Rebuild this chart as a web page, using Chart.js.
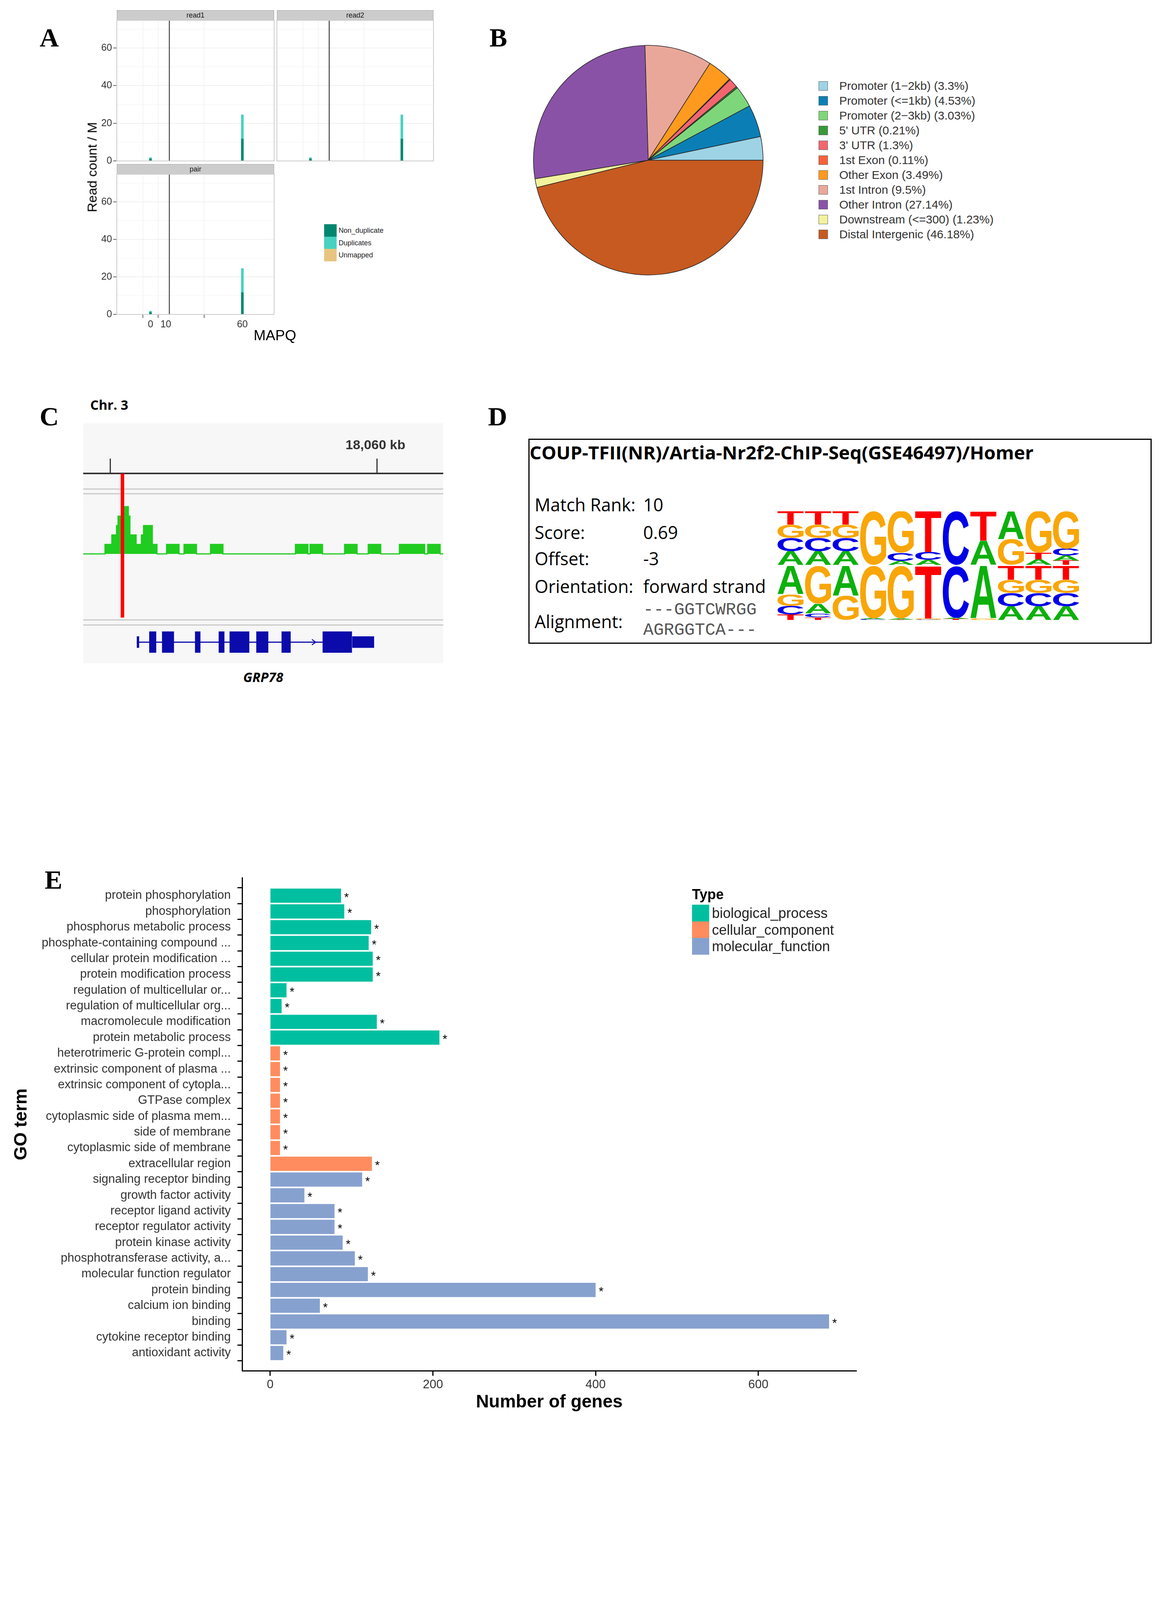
<!DOCTYPE html>
<html>
<head>
<meta charset="utf-8">
<title>ChIP-seq figure</title>
<script src="https://cdn.jsdelivr.net/npm/chart.js@4.4.1/dist/chart.umd.min.js"></script>
<style>
  html, body { margin: 0; padding: 0; background: #fff; }
  #page { position: relative; width: 2978px; height: 5689px; overflow: hidden; background: #fff;
          font-family: 'Liberation Sans', Arial, sans-serif; }
  #page div { position: absolute; white-space: pre; line-height: 1; }
  canvas { position: absolute; }
</style>
</head>
<body>
<div id="page"></div>
<script>
// ---------- A: MAPQ distribution (read count, millions) ----------
const mapqValues = [0, 60];
const read1NonDup = [1.1, 11.7];
const read1Dup = [0.7, 12.8];
const read1Unmapped = [0, 0];
const read2NonDup = [1.1, 11.7];
const read2Dup = [0.7, 12.8];
const read2Unmapped = [0, 0];
const pairNonDup = [1.1, 11.7];
const pairDup = [0.7, 12.8];
const pairUnmapped = [0, 0];
const mapqCutoff = 12.3;
const mapqTicks = [0, 10, 60];
const readTicks = [0, 10, 20, 30, 40, 50, 60, 70];
const mapqSeries = ['Non_duplicate', 'Duplicates', 'Unmapped'];

// ---------- B: peak annotation ----------
const annoNames = ['Promoter (1\u22122kb)', 'Promoter (<=1kb)', 'Promoter (2\u22123kb)', "5' UTR", "3' UTR",
  '1st Exon', 'Other Exon', '1st Intron', 'Other Intron', 'Downstream (<=300)', 'Distal Intergenic'];
const annoPercent = [3.3, 4.53, 3.03, 0.21, 1.3, 0.11, 3.49, 9.5, 27.14, 1.23, 46.18];

// ---------- C: coverage track near GRP78 (kb) ----------
const covStartKb = [18054.492, 18054.901, 18055.029, 18055.117, 18055.146, 18055.263, 18055.338, 18055.368,
  18055.484, 18055.583, 18055.624, 18055.788, 18055.875, 18056.056, 18056.289, 18056.383, 18056.616,
  18056.879, 18057.112, 18058.471, 18058.705, 18058.745, 18058.979, 18059.393, 18059.626, 18059.836,
  18060.070, 18060.420, 18060.893, 18060.951, 18061.184, 18061.242];
const covDepth = [0, 1, 2, 3, 4, 5, 4, 2, 1, 2, 3, 1, 0, 1, 0, 1, 0, 1, 0, 1, 0, 1, 0, 1, 0, 1, 0, 1, 0, 1, 0, 0];
const exonStartKb = [18055.496, 18055.729, 18055.968, 18056.587, 18057.030, 18057.234, 18057.736, 18058.209, 18058.979, 18059.533];
const exonEndKb = [18055.543, 18055.863, 18056.196, 18056.692, 18057.141, 18057.608, 18057.964, 18058.384, 18059.533, 18059.947];
const exonKind = ['utr', 'cds', 'cds', 'cds', 'cds', 'cds', 'cds', 'cds', 'cds', 'utr'];
const geneSpanKb = [18055.496, 18058.979];
const strandArrowKb = [18058.85];
const rulerTicksKb = [18055, 18060];
const rulerTickLabels = ['', '18,060 kb'];
const peakSummitKb = 18055.228;
const viewKb = [18054.492, 18061.242];

// ---------- D: motif logos (bottom -> top, probability) ----------
const logoQuery = [
  [['A', .25], ['C', .25], ['G', .25], ['T', .25]],
  [['A', .25], ['C', .25], ['G', .25], ['T', .25]],
  [['A', .25], ['C', .25], ['G', .25], ['T', .25]],
  [['G', 1]],
  [['A', .07], ['C', .15], ['G', .78]],
  [['A', .09], ['C', .15], ['T', .76]],
  [['C', 1]],
  [['A', .45], ['T', .55]],
  [['G', .48], ['A', .52]],
  [['A', .10], ['T', .12], ['G', .78]],
  [['T', .08], ['A', .09], ['C', .13], ['G', .70]]
];
const logoMatch = [
  [['T', .10], ['C', .16], ['G', .22], ['A', .52]],
  [['T', .05], ['C', .07], ['A', .18], ['G', .70]],
  [['G', .45], ['A', .55]],
  [['C', .015], ['A', .015], ['G', .97]],
  [['T', .01], ['A', .02], ['G', .97]],
  [['C', .01], ['G', .02], ['T', .97]],
  [['T', .02], ['A', .02], ['C', .96]],
  [['G', .03], ['A', .97]],
  [['A', .25], ['C', .25], ['G', .25], ['T', .25]],
  [['A', .25], ['C', .25], ['G', .25], ['T', .25]],
  [['A', .25], ['C', .25], ['G', .25], ['T', .25]]
];

// ---------- E: GO enrichment ----------
const goTerms = ['protein phosphorylation', 'phosphorylation', 'phosphorus metabolic process',
  'phosphate-containing compound ...', 'cellular protein modification ...', 'protein modification process',
  'regulation of multicellular or...', 'regulation of multicellular org...', 'macromolecule modification',
  'protein metabolic process', 'heterotrimeric G-protein compl...', 'extrinsic component of plasma ...',
  'extrinsic component of cytopla...', 'GTPase complex', 'cytoplasmic side of plasma mem...', 'side of membrane',
  'cytoplasmic side of membrane', 'extracellular region', 'signaling receptor binding', 'growth factor activity',
  'receptor ligand activity', 'receptor regulator activity', 'protein kinase activity',
  'phosphotransferase activity, a...', 'molecular function regulator', 'protein binding', 'calcium ion binding',
  'binding', 'cytokine receptor binding', 'antioxidant activity'];
const goGeneCounts = [87, 91, 124, 121, 126, 126, 20, 14, 131, 208, 12, 12, 12, 12, 12, 12, 12, 125,
  113, 42, 79, 79, 89, 104, 120, 400, 61, 687, 20, 16];
const goTypes = ['biological_process', 'biological_process', 'biological_process', 'biological_process',
  'biological_process', 'biological_process', 'biological_process', 'biological_process', 'biological_process',
  'biological_process', 'cellular_component', 'cellular_component', 'cellular_component', 'cellular_component',
  'cellular_component', 'cellular_component', 'cellular_component', 'cellular_component', 'molecular_function',
  'molecular_function', 'molecular_function', 'molecular_function', 'molecular_function', 'molecular_function',
  'molecular_function', 'molecular_function', 'molecular_function', 'molecular_function', 'molecular_function',
  'molecular_function'];
const goSignif = ['*', '*', '*', '*', '*', '*', '*', '*', '*', '*', '*', '*', '*', '*', '*',
  '*', '*', '*', '*', '*', '*', '*', '*', '*', '*', '*', '*', '*', '*', '*'];
const goTypeNames = ['biological_process', 'cellular_component', 'molecular_function'];
const goCountTicks = [0, 200, 400, 600];

// ---------- F: KEGG enrichment ----------
const keggPathways = ['VEGF signaling pathway', 'TNF signaling pathway', 'Sphingolipid signaling pathway',
  'Relaxin signaling pathway', 'Ras signaling pathway', 'Rap1 signaling pathway',
  'Protein processing in endoplasmic reticulum', 'Prolactin signaling pathway', 'PI3K-Akt signaling pathway',
  'Pathways in cancer', 'MAPK signaling pathway', 'Jak-STAT signaling pathway', 'HIF-1 signaling pathway',
  'FoxO signaling pathway', 'Focal adhesion', 'Fluid shear stress and atherosclerosis',
  'Estrogen signaling pathway', 'ErbB signaling pathway', 'Apoptosis', 'AMPK signaling pathway'];
const richFactor = [0.551, 0.525, 0.423, 0.598, 0.529, 0.445, 0.756, 0.554, 0.934, 0.430,
  0.443, 0.419, 0.517, 0.530, 0.616, 0.434, 0.417, 0.568, 0.510, 0.567];
const geneNumber = [77, 85, 80, 94, 121, 101, 117, 77, 331, 208, 121, 88, 85, 91, 121, 88, 88, 80, 88, 88];
const qValue = [0.01, 0.01, 0.05, 0.01, 0.00, 0.01, 0.01, 0.02, 0.00, 0.00,
  0.00, 0.04, 0.01, 0.01, 0.00, 0.03, 0.05, 0.02, 0.01, 0.01];
const richTicks = [0.4, 0.5, 0.6, 0.7, 0.8, 0.9];
const qLegendBreaks = [0, 0.25, 0.5, 0.75, 1];
const sizeLegendBreaks = [100, 200, 300];

// ---------- styles ----------
const SANS = "'Liberation Sans', Arial, sans-serif";
const OPEN = "'Open Sans', 'Noto Sans', sans-serif";
const mapqColors = ['#00876F', '#47D1C0', '#E8C480'];
const annoColors = ['#9DD3E5', '#0B7FB5', '#7ED67A', '#389838', '#F2666F', '#F5623A',
  '#FF9A1F', '#E9A79A', '#8A52A7', '#F2F19E', '#C75A20'];
const covColor = '#20CC20';
const geneColor = '#0B0BAB';
const logoColors = { A: '#0CB00C', C: '#0000E6', G: '#F8A608', T: '#FF0000' };
const goColors = { biological_process: '#00BFA0', cellular_component: '#FF8C5E', molecular_function: '#87A1CF' };
const qStops = [[0, '#FF0000'], [0.12, '#FF8C00'], [0.25, '#B4C800'], [0.38, '#00F000'],
  [0.5, '#00FF80'], [0.62, '#00FFFF'], [0.78, '#40A0FF'], [1, '#A050FF']];

Chart.defaults.font.family = SANS;
Chart.defaults.animation = false;
Chart.defaults.responsive = false;
Chart.defaults.devicePixelRatio = 1;
Chart.defaults.plugins.legend.display = false;
Chart.defaults.plugins.tooltip.enabled = false;

const page = document.getElementById('page');

function put(str, x, y, font, opt, parent) {
  opt = opt || {};
  const d = document.createElement('div');
  d.textContent = str;
  const tx = opt.align === 'left' ? '0' : opt.align === 'right' ? '-100%' : '-50%';
  d.style.left = x + 'px';
  d.style.top = y + 'px';
  d.style.font = font;
  d.style.color = opt.color || '#000';
  d.style.transform = 'translate(' + tx + ', -50%)' + (opt.rotate ? ' rotate(' + opt.rotate + 'deg)' : '');
  (parent || page).appendChild(d);
  return d;
}

function box(x, y, w, h, css, parent) {
  const d = document.createElement('div');
  Object.assign(d.style, { left: x + 'px', top: y + 'px', width: w + 'px', height: h + 'px', boxSizing: 'border-box' }, css);
  (parent || page).appendChild(d);
  return d;
}

function mkCanvas(x, y, w, h, parent) {
  const c = document.createElement('canvas');
  c.width = Math.round(w);
  c.height = Math.round(h);
  Object.assign(c.style, { left: x + 'px', top: y + 'px', width: Math.round(w) + 'px', height: Math.round(h) + 'px' });
  (parent || page).appendChild(c);
  return c;
}

// canvas whose chart area lands on rect; m = room for axes around it
function plotCanvas(rect, m, parent) {
  return mkCanvas(rect.x - m.l, rect.y - m.t, rect.w + m.l + m.r, rect.h + m.t + m.b, parent);
}

function frame(color, width) {
  return {
    id: 'frame',
    afterDatasetsDraw(chart) {
      const a = chart.chartArea, c = chart.ctx;
      c.save();
      c.strokeStyle = color;
      c.lineWidth = width;
      c.strokeRect(a.left, a.top, a.right - a.left, a.bottom - a.top);
      c.restore();
    }
  };
}

function hexToRgb(h) { return [1, 3, 5].map(i => parseInt(h.substr(i, 2), 16)); }
function qColor(q) {
  for (let i = 1; i < qStops.length; i++) {
    if (q <= qStops[i][0]) {
      const [p0, c0] = qStops[i - 1], [p1, c1] = qStops[i];
      const t = (q - p0) / (p1 - p0), a = hexToRgb(c0), b = hexToRgb(c1);
      return 'rgb(' + a.map((v, k) => Math.round(v + (b[k] - v) * t)).join(',') + ')';
    }
  }
  return qStops[qStops.length - 1][1];
}
// bubble radius (px) from gene count, area-linear
function sizeScale(v) { return Math.sqrt(Math.max(1.4855 * v - 103.65, 4)); }

// panel letters
[['A', 126, 96], ['B', 1276, 96], ['C', 126, 1066], ['D', 1274, 1066], ['E', 137, 2252], ['F', 131, 4208]]
  .forEach(([t, x, y]) => put(t, x, y, "bold 68px 'Liberation Serif', 'Times New Roman', serif"));

// ================= A =================
const facets = [
  { name: 'read1', rect: { x: 299, y: 52, w: 403, h: 360 }, m: { l: 80, t: 24, r: 2, b: 24 }, yLab: true, xLab: false,
    series: [read1NonDup, read1Dup, read1Unmapped] },
  { name: 'read2', rect: { x: 709, y: 52, w: 401, h: 360 }, m: { l: 2, t: 24, r: 2, b: 24 }, yLab: false, xLab: false,
    series: [read2NonDup, read2Dup, read2Unmapped] },
  { name: 'pair', rect: { x: 299, y: 446, w: 403, h: 359 }, m: { l: 80, t: 24, r: 2, b: 56 }, yLab: true, xLab: true,
    series: [pairNonDup, pairDup, pairUnmapped] }
];
const readMax = 74.7;
facets.forEach(f => {
  const m = f.m;
  box(f.rect.x, f.rect.y - 26, f.rect.w, 26, { background: '#CCCCCC', border: '1px solid #A8A8A8' });
  put(f.name, f.rect.x + f.rect.w / 2, f.rect.y - 13, '18px ' + SANS, { color: '#1A1A1A' });
  const datasets = mapqSeries.map((s, k) => ({
    type: 'bar', label: s, stack: 'reads', barThickness: 6, backgroundColor: mapqColors[k],
    data: mapqValues.map((x, i) => ({ x: x, y: f.series[k][i] }))
  }));
  datasets.push({ type: 'line', label: 'cutoff', stack: 'cut', borderColor: '#1A1A1A', borderWidth: 2, pointRadius: 0,
    data: [{ x: mapqCutoff, y: 0 }, { x: mapqCutoff, y: readMax }] });
  new Chart(plotCanvas(f.rect, m), {
    type: 'bar',
    data: { datasets: datasets },
    options: {
      events: [],
      layout: { padding: { left: 0, top: m.t, right: m.r, bottom: 0 } },
      scales: {
        x: {
          type: 'linear', stacked: true, min: -4.9, max: 63.64,
          afterFit: s => { s.height = m.b; },
          afterBuildTicks: s => { s.ticks = mapqTicks.map(v => ({ value: v })); },
          border: { display: false },
          grid: { color: '#EFEFEF', lineWidth: 1.5, drawTicks: f.xLab, tickLength: 9, tickColor: '#333' },
          ticks: { display: f.xLab, font: { size: 25 }, color: '#333', padding: 2, maxRotation: 0, autoSkip: false }
        },
        y: {
          stacked: true, min: 0, max: readMax,
          afterFit: s => { s.width = m.l; },
          afterBuildTicks: s => { s.ticks = readTicks.map(v => ({ value: v })); },
          border: { display: false },
          grid: {
            color: c => (c.tick && c.tick.value % 20 === 0) ? '#EBEBEB' : '#F6F6F6', lineWidth: 1.5,
            tickLength: 9, tickColor: c => (f.yLab && c.tick && c.tick.value % 20 === 0) ? '#333' : 'rgba(0,0,0,0)'
          },
          ticks: { display: f.yLab, callback: v => (v % 20 === 0 ? v : ''), font: { size: 25 }, color: '#333', padding: 3, autoSkip: false }
        }
      }
    },
    plugins: [frame('#CCCCCC', 2)]
  });
});
put('Read count / M', 236, 428, '34px ' + SANS, { rotate: -90 });
put('MAPQ', 704, 859, '37px ' + SANS);
mapqSeries.forEach((s, i) => {
  box(830, 574 + i * 31.5, 32, 31.5, { background: mapqColors[i] });
  put(s, 867, 574 + i * 31.5 + 16, '18px ' + SANS, { align: 'left', color: '#222' });
});

// ================= B =================
new Chart(mkCanvas(1350, 100, 620, 620), {
  type: 'pie',
  data: {
    labels: annoNames.slice().reverse(),
    datasets: [{ data: annoPercent.slice().reverse(), backgroundColor: annoColors.slice().reverse(),
      borderColor: '#222', borderWidth: 1.5 }]
  },
  options: { events: [], rotation: 90, radius: 294, layout: { padding: 0 } }
});
annoNames.forEach((n, i) => {
  const cy = 220 + i * 38;
  box(2096, cy - 12, 24, 24, { background: annoColors[i], border: '1.5px solid #666' });
  put(n + ' (' + annoPercent[i] + '%)', 2149, cy, '30px ' + SANS, { align: 'left', color: '#333' });
});

// ================= C =================
put('Chr. 3', 231, 1036, 'bold 34px ' + OPEN, { align: 'left' });
put('GRP78', 674, 1733, 'italic bold 34px ' + OPEN);
const igvDecor = {
  id: 'igvDecor',
  beforeDraw(chart) {
    const c = chart.ctx, W = chart.width, H = chart.height, x = chart.scales.x;
    c.save();
    c.fillStyle = '#F7F7F7';
    c.fillRect(0, 0, W, H);
    c.fillStyle = '#C9C9C9';
    [168, 180, 503, 516].forEach(y => c.fillRect(0, y - 1.5, W, 3));
    c.fillStyle = '#333';
    c.fillRect(0, 126, W, 4);
    c.font = 'bold 34px ' + SANS;
    c.textAlign = 'center';
    c.textBaseline = 'middle';
    rulerTicksKb.forEach((k, i) => {
      const px = x.getPixelForValue(k);
      c.fillRect(px - 1.5, 90, 3, 36);
      if (rulerTickLabels[i]) c.fillText(rulerTickLabels[i], px - 4, 57);
    });
    c.restore();
  },
  afterDatasetsDraw(chart) {
    const c = chart.ctx, px = chart.scales.x.getPixelForValue(peakSummitKb);
    c.save();
    c.fillStyle = '#FF0000';
    c.fillRect(px - 4.5, 128, 9, 369);
    c.restore();
  }
};
const cDatasets = [{
  yAxisID: 'y', stepped: 'before', borderColor: covColor, borderWidth: 3, backgroundColor: covColor,
  fill: { value: 0 }, pointRadius: 0, data: covStartKb.map((x, i) => ({ x: x, y: covDepth[i] }))
}, {
  yAxisID: 'yg', borderColor: geneColor, borderWidth: 3, pointRadius: 0, fill: false,
  data: [{ x: geneSpanKb[0], y: 0 }, { x: geneSpanKb[1], y: 0 }]
}];
exonStartKb.forEach((s, i) => {
  const h = exonKind[i] === 'cds' ? 27 : 14.5;
  cDatasets.push({ yAxisID: 'yg', borderColor: geneColor, borderWidth: 1, backgroundColor: geneColor, pointRadius: 0,
    fill: { value: -h }, data: [{ x: s, y: h }, { x: exonEndKb[i], y: h }] });
});
strandArrowKb.forEach(k => {
  cDatasets.push({ yAxisID: 'yg', borderColor: geneColor, borderWidth: 2.5, pointRadius: 0, fill: false,
    data: [{ x: k - 0.07, y: 7 }, { x: k, y: 0 }, { x: k - 0.07, y: -7 }] });
});
new Chart(mkCanvas(213, 1084, 922, 614), {
  type: 'line',
  data: { datasets: cDatasets },
  options: {
    events: [],
    layout: { padding: 0 },
    scales: {
      x: { type: 'linear', min: viewKb[0], max: viewKb[1], display: false },
      y: { min: -11.57, max: 13.8, display: false },
      yg: { min: -54, max: 560, display: false }
    }
  },
  plugins: [igvDecor]
});

// ================= D =================
box(1353, 1123, 1596, 525, { border: '3px solid #000' });
const dTitle = put('COUP-TFII(NR)/Artia-Nr2f2-ChIP-Seq(GSE46497)/Homer', 1356, 1158, 'bold 46px ' + OPEN, { align: 'left' });
const tw = dTitle.offsetWidth;
dTitle.style.transformOrigin = '0 50%';
dTitle.style.transform = 'translate(0, -50%) scaleX(' + (1290 / tw).toFixed(4) + ')';
[['Match Rank:', '10', 1291], ['Score:', '0.69', 1362], ['Offset:', '-3', 1429], ['Orientation:', 'forward strand', 1500]]
  .forEach(([k, v, y]) => {
    put(k, 1369, y, '45px ' + OPEN, { align: 'left' });
    put(v, 1647, y, '45px ' + OPEN, { align: 'left' });
  });
put('Alignment:', 1369, 1590, '45px ' + OPEN, { align: 'left' });
put('---GGTCWRGG', 1647, 1561, "44px 'Liberation Mono', monospace", { align: 'left', color: '#555' });
put('AGRGGTCA---', 1647, 1613, "44px 'Liberation Mono', monospace", { align: 'left', color: '#555' });

function drawGlyph(ctx, ch, x, y, w, h, color) {
  ctx.save();
  ctx.font = 'bold 200px ' + SANS;
  const m = ctx.measureText(ch);
  const gw = m.actualBoundingBoxLeft + m.actualBoundingBoxRight;
  const gh = m.actualBoundingBoxAscent + m.actualBoundingBoxDescent;
  ctx.translate(x, y);
  ctx.scale(w / gw, h / gh);
  ctx.fillStyle = color;
  ctx.textAlign = 'left';
  ctx.textBaseline = 'alphabetic';
  ctx.fillText(ch, m.actualBoundingBoxLeft, m.actualBoundingBoxAscent);
  ctx.restore();
}
function logoChart(rect, columns) {
  const depth = Math.max.apply(null, columns.map(c => c.length));
  const datasets = [];
  for (let r = 0; r < depth; r++) {
    datasets.push({ data: columns.map(c => (c[r] ? c[r][1] : 0)), backgroundColor: 'rgba(0,0,0,0)', borderWidth: 0,
      categoryPercentage: 1, barPercentage: 0.95 });
  }
  new Chart(mkCanvas(rect.x, rect.y, rect.w, rect.h), {
    type: 'bar',
    data: { labels: columns.map((c, i) => String(i + 1)), datasets: datasets },
    options: {
      events: [],
      layout: { padding: 0 },
      scales: { x: { stacked: true, display: false }, y: { stacked: true, display: false, min: 0, max: 1 } }
    },
    plugins: [{
      id: 'glyphs',
      afterDatasetsDraw(chart) {
        datasets.forEach((ds, r) => chart.getDatasetMeta(r).data.forEach((bar, i) => {
          const cell = columns[i][r];
          if (!cell) return;
          const top = Math.min(bar.y, bar.base), h = Math.abs(bar.base - bar.y);
          if (h < 0.5) return;
          drawGlyph(chart.ctx, cell[0], bar.x - bar.width / 2, top, bar.width, h, logoColors[cell[0]]);
        }));
      }
    }]
  });
}
logoChart({ x: 1989, y: 1309, w: 776, h: 137 }, logoQuery);
logoChart({ x: 1989, y: 1449, w: 776, h: 138 }, logoMatch);

// ================= E =================
const eRect = { x: 620, y: 2232, w: 1573, h: 1276.6 };
const eM = { l: 596, t: 20, r: 30, b: 113 };
const goStarPlugin = {
  id: 'goStars',
  afterDatasetsDraw(chart) {
    const c = chart.ctx;
    c.save();
    c.font = '31px ' + SANS;
    c.fillStyle = '#000';
    c.textAlign = 'left';
    c.textBaseline = 'alphabetic';
    chart.getDatasetMeta(0).data.forEach((bar, i) => c.fillText(goSignif[i], bar.x + 8, bar.y + 15));
    c.restore();
  }
};
new Chart(plotCanvas(eRect, eM), {
  type: 'bar',
  data: {
    datasets: [{
      data: goGeneCounts.map((v, i) => ({ x: v, y: i })),
      backgroundColor: goTypes.map(t => goColors[t]),
      borderWidth: 0, barPercentage: 0.9, categoryPercentage: 1
    }]
  },
  options: {
    events: [],
    indexAxis: 'y',
    layout: { padding: { left: 0, top: eM.t, right: eM.r, bottom: 0 } },
    scales: {
      x: {
        type: 'linear', min: -34.56, max: 720.6,
        afterFit: s => { s.height = eM.b; },
        afterBuildTicks: s => { s.ticks = goCountTicks.map(v => ({ value: v })); },
        border: { display: true, color: '#000', width: 3 },
        grid: { drawOnChartArea: false, drawTicks: true, tickLength: 13, tickColor: '#000', tickWidth: 3 },
        ticks: { font: { size: 31 }, color: '#333', padding: 5, maxRotation: 0, autoSkip: false },
        title: { display: true, text: 'Number of genes', font: { size: 46, weight: 'bold' }, color: '#000', padding: { top: 0, bottom: 4 } }
      },
      y: {
        type: 'linear', reverse: true, min: -0.6, max: goTerms.length - 0.4,
        afterFit: s => { s.width = eM.l; },
        afterBuildTicks: s => { s.ticks = goTerms.map((t, i) => ({ value: i })); },
        border: { display: true, color: '#000', width: 3 },
        grid: { drawOnChartArea: false, drawTicks: true, tickLength: 12, tickColor: '#000', tickWidth: 3 },
        ticks: { callback: v => goTerms[v], font: { size: 31 }, color: '#333', padding: 17, autoSkip: false },
        title: { display: true, text: 'GO term', font: { size: 46, weight: 'bold' }, color: '#000', padding: { top: 4, bottom: 0 } }
      }
    }
  },
  plugins: [goStarPlugin]
});
put('Type', 1772, 2290, 'bold 36px ' + SANS, { align: 'left' });
goTypeNames.forEach((t, i) => {
  box(1772, 2316 + i * 42.5, 44, 42.5, { background: goColors[t] });
  put(t, 1823, 2316 + i * 42.5 + 22, '36px ' + SANS, { align: 'left', color: '#222' });
});

// ================= F (horizontally stretched like the source) =================
const SX = 1.2;
const fWrap = box(0, 0, 2978 / SX, 5689, { transform: 'scaleX(' + SX + ')', transformOrigin: '0 0' });
const fRect = { x: 983.5 / SX, y: 4175.4, w: (1893 - 983.5) / SX, h: 1380.2 };
const fM = { l: fRect.x - 150, t: 20, r: 10, b: 105 };
const isMajor = v => Math.round(v * 10) % 2 === 0;
new Chart(plotCanvas(fRect, fM, fWrap), {
  type: 'bubble',
  data: {
    datasets: [{
      data: richFactor.map((x, i) => ({ x: x, y: i, r: sizeScale(geneNumber[i]) })),
      backgroundColor: qValue.map(qColor),
      borderWidth: 0
    }]
  },
  options: {
    events: [],
    layout: { padding: { left: 0, top: fM.t, right: fM.r, bottom: 0 } },
    scales: {
      x: {
        type: 'linear', min: 0.3928, max: 0.9595,
        afterFit: s => { s.height = fM.b; },
        afterBuildTicks: s => { s.ticks = richTicks.map(v => ({ value: v })); },
        border: { display: false },
        grid: {
          color: c => (c.tick && isMajor(c.tick.value)) ? '#E6E6E6' : '#F3F3F3',
          lineWidth: c => (c.tick && isMajor(c.tick.value)) ? 1.6 : 1,
          tickLength: 8, tickColor: c => (c.tick && isMajor(c.tick.value)) ? '#333' : 'rgba(0,0,0,0)'
        },
        ticks: { callback: v => (isMajor(v) ? v.toFixed(1) : ''), font: { size: 31 }, color: '#333', padding: 10, maxRotation: 0, autoSkip: false },
        title: { display: true, text: 'Rich factor', font: { size: 36 }, color: '#000', padding: { top: 0, bottom: 4 } }
      },
      y: {
        type: 'linear', reverse: true, min: -0.6, max: keggPathways.length - 0.4,
        afterFit: s => { s.width = fM.l; },
        afterBuildTicks: s => { s.ticks = keggPathways.map((p, i) => ({ value: i })); },
        border: { display: false },
        grid: { color: '#EBEBEB', lineWidth: 1.5, tickLength: 14, tickColor: '#333' },
        ticks: { callback: v => keggPathways[v], font: { size: 31 }, color: '#1A1A1A', padding: 10, autoSkip: false }
      }
    }
  },
  plugins: [frame('#555', 2)]
});
// colour bar legend
const cbX = 1623, cbTop = 4608.5, cbW = 53, cbH = 287.3;
put('qvalue', 1618, 4581, 'bold 30px ' + SANS, { align: 'left' }, fWrap);
box(cbX, cbTop, cbW, cbH, {
  background: 'linear-gradient(to top, ' + qStops.map(s => s[1] + ' ' + (s[0] * 100) + '%').join(', ') + ')'
}, fWrap);
qLegendBreaks.forEach(q => {
  const y = 4890.7 - q * 276.1;
  box(cbX, y - 1, 10, 2, { background: '#fff' }, fWrap);
  box(cbX + cbW - 10, y - 1, 10, 2, { background: '#fff' }, fWrap);
  put(q.toFixed(2), 1692, y, '31px ' + SANS, { align: 'left', color: '#1A1A1A' }, fWrap);
});
put('Gene_number', 1623, 4962.5, 'bold 30px ' + SANS, { align: 'left' }, fWrap);
sizeLegendBreaks.forEach((v, i) => {
  const y = [5017, 5075.4, 5133.9][i], r = sizeScale(v);
  box(1649.8 - r, y - r, 2 * r, 2 * r, { background: '#000', borderRadius: '50%' }, fWrap);
  put(String(v), 1684, y, '31px ' + SANS, { align: 'left', color: '#1A1A1A' }, fWrap);
});
</script>
</body>
</html>
